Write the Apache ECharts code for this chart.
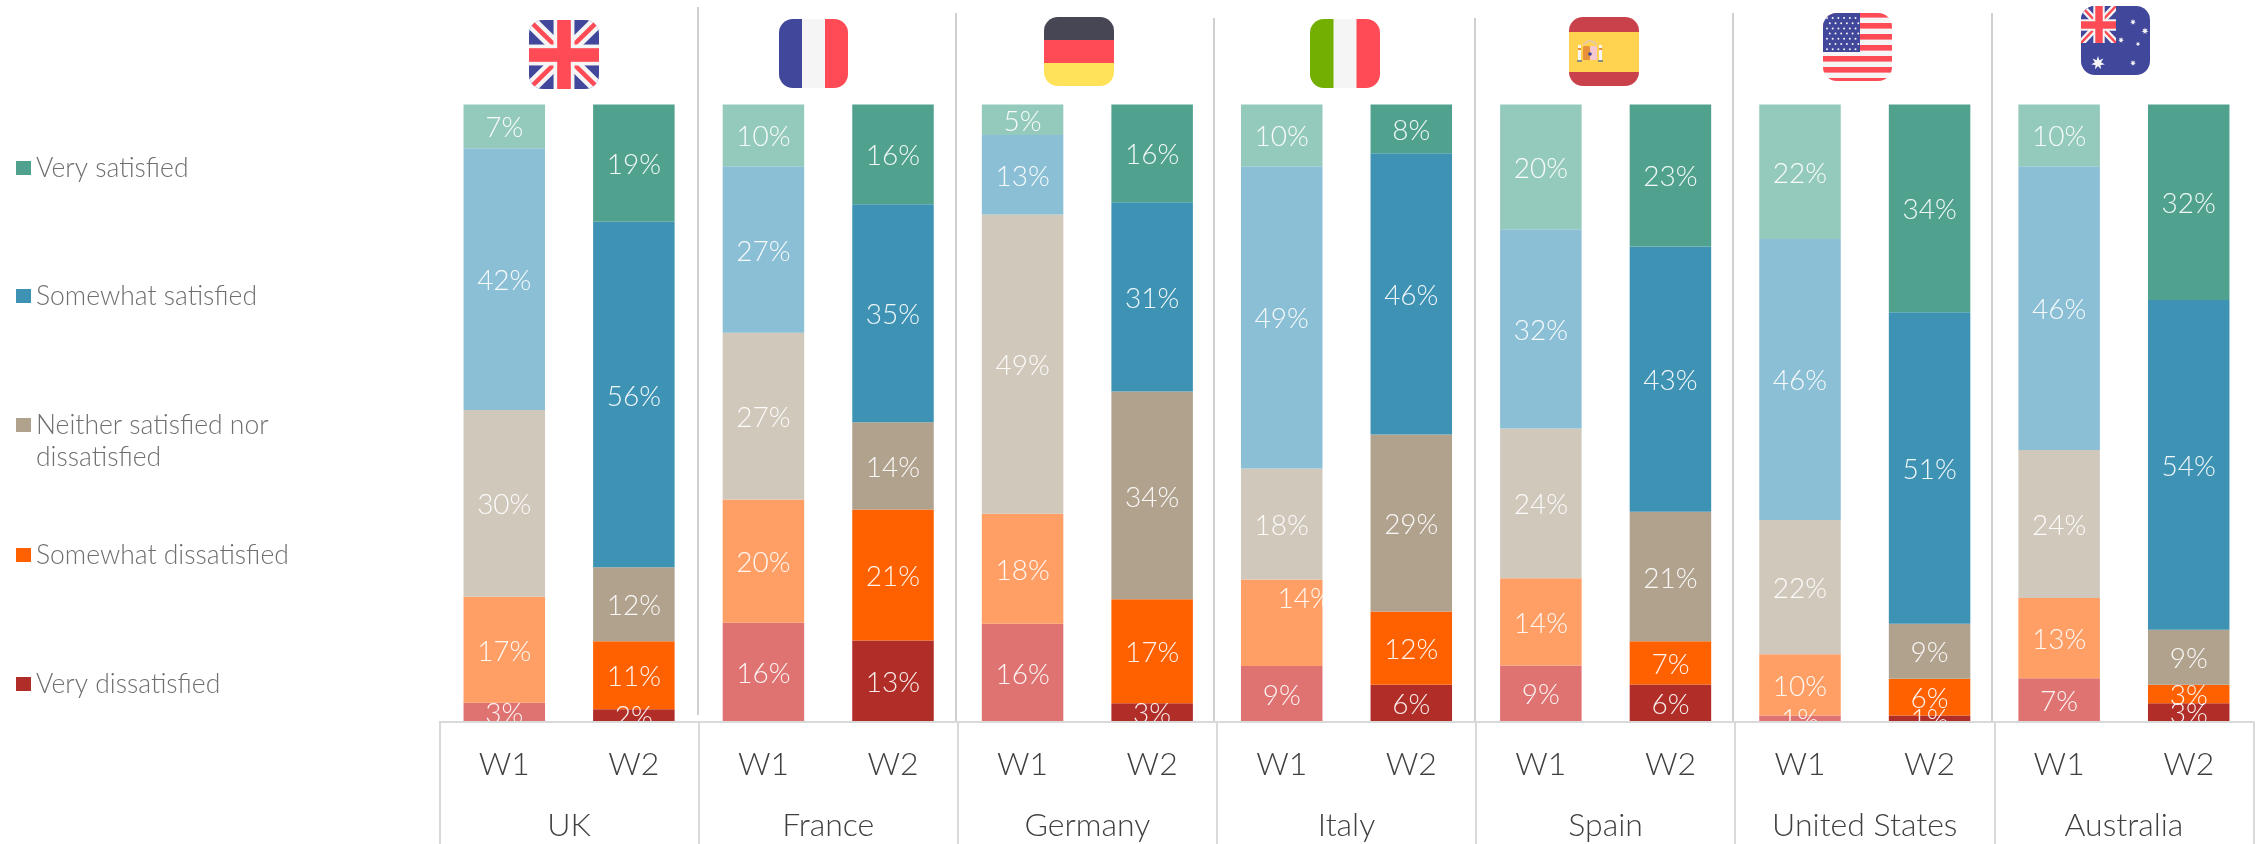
<!DOCTYPE html>
<html>
<head>
<meta charset="utf-8">
<style>html,body{margin:0;padding:0;background:#fff}#c{width:2257px;height:844px}</style>
<script src="https://cdn.jsdelivr.net/npm/echarts@6/dist/echarts.min.js"></script>
</head>
<body>
<div id="c"></div>
<script>
const countries = ['UK','France','Germany','Italy','Spain','United States','Australia'];
const waves = ['W1','W2','W1','W2','W1','W2','W1','W2','W1','W2','W1','W2','W1','W2'];
const verySatisfied      = [7,19, 10,16, 5,16, 10,8, 20,23, 22,34, 10,32];
const somewhatSatisfied  = [42,56, 27,35, 13,31, 49,46, 32,43, 46,51, 46,54];
const neither            = [30,12, 27,14, 49,34, 18,29, 24,21, 22,9, 24,9];
const somewhatDissat     = [17,11, 20,21, 18,17, 14,12, 14,7, 10,6, 13,3];
const veryDissatisfied   = [3,2, 16,13, 16,3, 9,6, 9,6, 1,1, 7,3];

const names = ['Very satisfied','Somewhat satisfied','Neither satisfied nor dissatisfied','Somewhat dissatisfied','Very dissatisfied'];
const strong = ['#50A28F','#3E93B4','#B1A28E','#FF6100','#B02D28'];
const light  = ['#94CABC','#8ABFD5','#D0C8BB','#FF9F66','#DF7372'];
const allValues = [verySatisfied, somewhatSatisfied, neither, somewhatDissat, veryDissatisfied];
const totals = waves.map((_, i) => allValues.reduce((s, a) => s + a[i], 0));

const font = 'Lato';
const series = [4,3,2,1,0].map(k => ({
  name: names[k], type: 'bar', stack: 'all', barWidth: 81.5,
  itemStyle: {color: strong[k]},
  label: {
    show: true, position: 'inside', color: 'rgba(255,255,255,0.92)', offset: [0, 2],
    fontFamily: font, fontWeight: 300, fontSize: 28,
    formatter: p => allValues[k][p.dataIndex] + '%'
  },
  data: allValues[k].map((v, i) => {
    const d = {value: v / totals[i] * 100};
    if (i % 2 === 0) d.itemStyle = {color: light[k]};
    if (k === 3 && i === 6) d.label = {offset: [23, -24]};
    return d;
  })
}));

const legendCenters = [168, 296, 425, 555, 684];
const legendLine = 32;
const legends = names.map((n, k) => ({
  data: [n], left: 16, top: legendCenters[k] - (k === 2 ? legendLine * 1.5 : legendLine / 2),
  padding: 0, orient: 'vertical', icon: 'rect', itemWidth: 15, itemHeight: 14, itemGap: 6,
  selectedMode: false,
  formatter: t => t === names[2] ? ' \nNeither satisfied nor\ndissatisfied' : t,
  textStyle: {color: '#6f6f6f', fontFamily: font, fontWeight: 300, fontSize: 26.5, lineHeight: legendLine}
}));

/* Flags */
const R = 'rx="14" ry="14"';
function star(cx, cy, r, n = 7) {
  let s = '';
  for (let i = 0; i < n * 2; i++) {
    const a = Math.PI * i / n - Math.PI / 2, q = i % 2 ? r * 0.45 : r;
    s += (cx + q * Math.cos(a)).toFixed(1) + ',' + (cy + q * Math.sin(a)).toFixed(1) + ' ';
  }
  return `<polygon points="${s}" fill="#F5F5F5"/>`;
}
function wrap(w, h, inner) {
  const svg = `<svg xmlns="http://www.w3.org/2000/svg" width="${w}" height="${h}" viewBox="0 0 ${w} ${h}"><defs><clipPath id="k"><rect width="${w}" height="${h}" ${R}/></clipPath></defs><g clip-path="url(#k)">${inner}</g></svg>`;
  return 'data:image/svg+xml;charset=utf-8,' + encodeURIComponent(svg);
}
function union(w, h) {
  const sx = Math.round(h * 0.16), cx = Math.round(w / 2), cy = Math.round(h / 2);
  return `<rect width="${w}" height="${h}" fill="#41479B"/>
  <path d="M0 0L${w} ${h}M${w} 0L0 ${h}" stroke="#F5F5F5" stroke-width="${h * 0.19}"/>
  <path d="M0 0L${w} ${h}M${w} 0L0 ${h}" stroke="#FF4B55" stroke-width="${h * 0.065}"/>
  <rect x="${cx - sx * 0.95}" width="${sx * 1.9}" height="${h}" fill="#F5F5F5"/>
  <rect y="${cy - sx * 0.95}" width="${w}" height="${sx * 1.9}" fill="#F5F5F5"/>
  <rect x="${cx - sx * 0.62}" width="${sx * 1.24}" height="${h}" fill="#FF4B55"/>
  <rect y="${cy - sx * 0.62}" width="${w}" height="${sx * 1.24}" fill="#FF4B55"/>`;
}
function usFlag() {
  let s = '<rect width="70" height="73" fill="#F5F5F5"/>';
  for (let i = 0; i < 7; i++) s += `<rect y="${i * 11 - 1}" width="70" height="5.6" fill="#FF4B55"/>`;
  s += '<rect width="37" height="39" fill="#41479B"/>';
  for (let r = 0; r < 7; r++) for (let c = 0; c < 6; c++) {
    s += `<circle cx="${4 + c * 5.7 + (r % 2 ? 2.8 : 0)}" cy="${5 + r * 5.2}" r="1" fill="#F5F5F5"/>`;
  }
  return s;
}
function ausFlag() {
  return `<rect width="70" height="74" fill="#41479B"/>
  <svg width="35" height="37" viewBox="0 0 35 37">${union(35, 37)}</svg>` +
    star(17, 57, 7) + star(52, 16, 3) + star(64, 25, 3.5) + star(57, 38, 2.4) + star(52, 57, 3) + star(40, 34, 3);
}
function spainFlag() {
  return `<rect width="70" height="69" fill="#C8414B"/><rect y="15" width="70" height="40" fill="#FFD250"/>
  <rect x="14" y="29" width="7" height="14" rx="1.5" fill="#E8903A"/><rect x="21" y="29" width="7" height="14" rx="1.5" fill="#F5C8D0"/>
  <circle cx="21" cy="37" r="1.8" fill="#41479B"/>
  <path d="M14 28Q21 20 28 28" fill="none" stroke="#E8C8A0" stroke-width="2"/>
  <rect x="9" y="28" width="3" height="15" fill="#F5F5F5"/><rect x="30" y="28" width="3" height="15" fill="#F5F5F5"/>
  <rect x="9" y="31" width="3" height="2" fill="#E8903A"/><rect x="30" y="31" width="3" height="2" fill="#E8903A"/>
  <rect x="8" y="43" width="5" height="2" fill="#8A9088"/><rect x="29" y="43" width="5" height="2" fill="#8A9088"/>`;
}
const flagDefs = [
  {x: 529, y: 20, w: 70, h: 69, svg: union(70, 69)},
  {x: 779, y: 19, w: 69, h: 69, svg: '<rect width="69" height="69" fill="#F5F5F5"/><rect width="23" height="69" fill="#41479B"/><rect x="46" width="23" height="69" fill="#FF4B55"/>'},
  {x: 1044, y: 17, w: 70, h: 69, svg: '<rect width="70" height="23" fill="#464655"/><rect y="23" width="70" height="23" fill="#FF4B55"/><rect y="46" width="70" height="23" fill="#FFE15A"/>'},
  {x: 1310, y: 19, w: 70, h: 69, svg: '<rect width="70" height="69" fill="#F5F5F5"/><rect width="23.5" height="69" fill="#73AF00"/><rect x="46.5" width="23.5" height="69" fill="#FF4B55"/>'},
  {x: 1569, y: 17, w: 70, h: 69, svg: spainFlag()},
  {x: 1823, y: 13, w: 69, h: 68, svg: usFlag()},
  {x: 2081, y: 6, w: 69, h: 69, svg: ausFlag()}
];
const flagElements = flagDefs.map(f => ({
  type: 'image', silent: true,
  style: {image: wrap(f.w, f.h, f.svg), x: f.x, y: f.y, width: f.w, height: f.h}
}));

/* Upper separators between the countries */
const seps = [[698, 7, 715], [956, 13, 721], [1214, 18, 721], [1475, 18, 721], [1733, 13, 721], [1992, 13, 721]];
const sepElements = seps.map(([x, a, b]) => ({
  type: 'line', silent: true, z: 1,
  shape: {x1: x, y1: a, x2: x, y2: b},
  style: {stroke: '#d0d0d0', lineWidth: 2}
}));

const mask = {
  type: 'rect', silent: true, z: 50,
  shape: {x: 0, y: 721.5, width: 2257, height: 123},
  style: {fill: '#fff'}
};

const chart = echarts.init(document.getElementById('c'), null, {renderer: 'canvas'});
chart.setOption({
  animation: false,
  backgroundColor: '#fff',
  legend: legends,
  grid: {left: 439.5, top: 104.5, width: 1814, height: 617},
  xAxis: [
    {
      type: 'category', data: waves, position: 'bottom', z: 60,
      axisLine: {lineStyle: {color: '#d9d9d9', width: 2}},
      axisTick: {show: false},
      axisLabel: {color: '#404040', fontFamily: font, fontWeight: 300, fontSize: 32, margin: 27, interval: 0}
    },
    {
      type: 'category', data: countries, position: 'bottom', z: 60,
      axisLine: {show: false},
      axisTick: {show: true, length: 123, lineStyle: {color: '#d9d9d9', width: 2}},
      axisLabel: {color: '#404040', fontFamily: font, fontWeight: 300, fontSize: 32, margin: 88, interval: 0}
    }
  ],
  yAxis: {type: 'value', min: 0, max: 100, show: false},
  graphic: [...sepElements, ...flagElements, mask],
  series
});
</script>
</body>
</html>
